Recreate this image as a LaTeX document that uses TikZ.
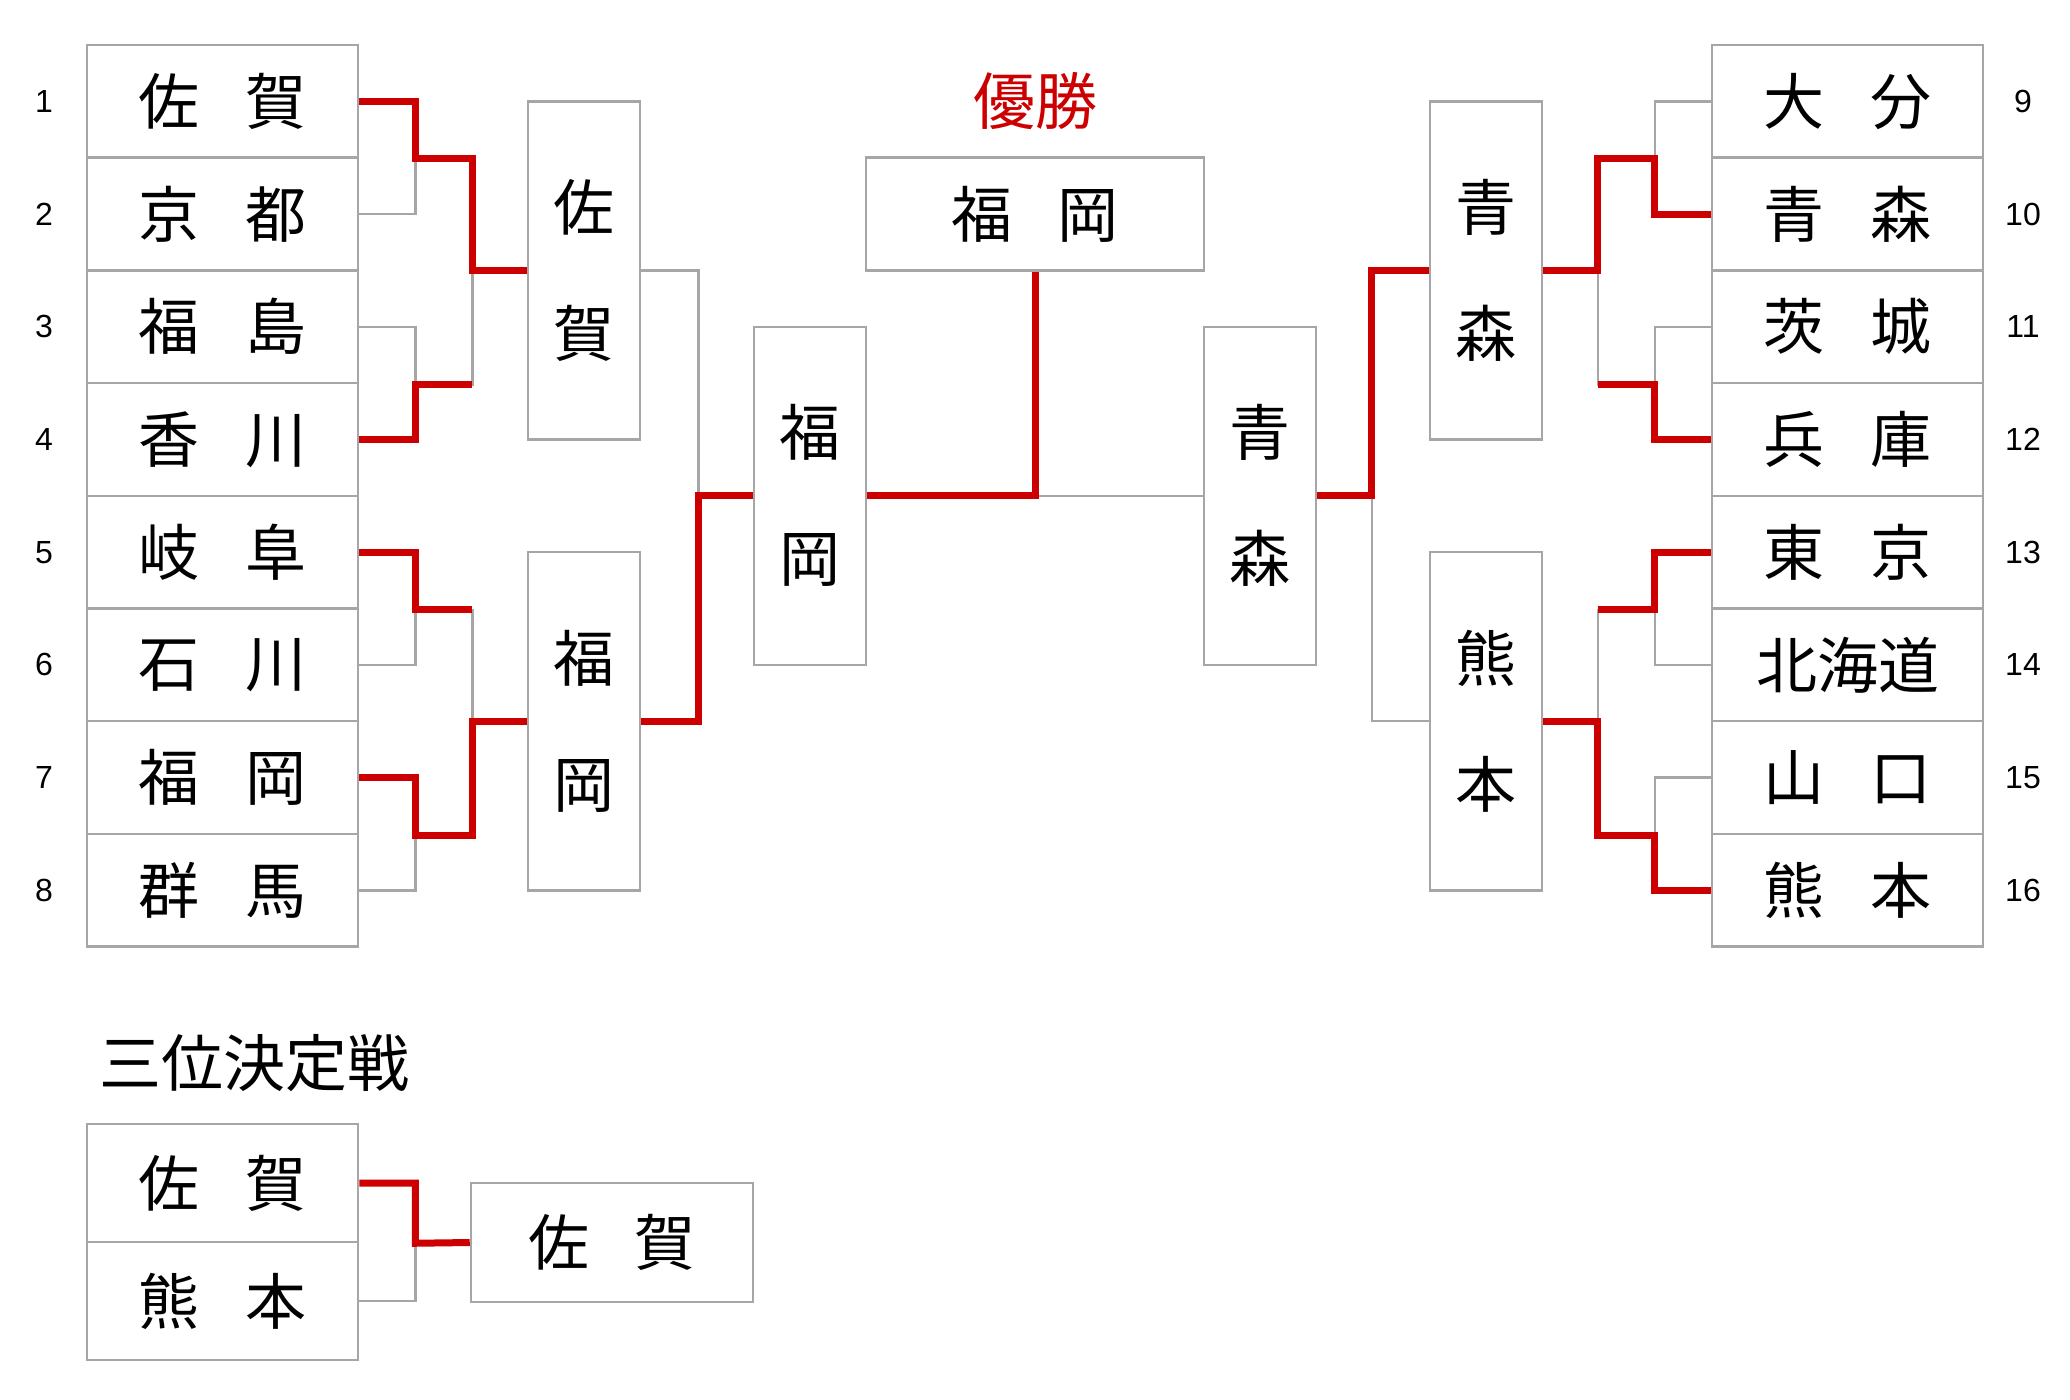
\documentclass[tikz,border=0pt]{standalone}
\usepackage{fontspec}
\setmainfont{Liberation Sans}
\newfontfamily\jp{Noto Sans CJK JP}
\usetikzlibrary{calc,positioning}
\definecolor{boxgray}{RGB}{166,166,166}
\definecolor{winred}{RGB}{204,0,0}
\newcommand{\ken}[2]{#1\hspace{0.75em}#2}

\begin{document}
\begin{tikzpicture}[
    x=1pt, y=-1pt,
    team/.style={draw=boxgray, line width=2.5pt, minimum width=271pt, minimum height=112.7pt, inner sep=0pt, font=\jp\fontsize{61}{61}\selectfont},
    tall/.style={draw=boxgray, line width=2.5pt, minimum width=112pt, minimum height=338.1pt, inner sep=0pt, align=center, font=\jp\fontsize{61}{126}\selectfont},
    num/.style={inner sep=0pt, font=\fontsize{32}{32}\selectfont},
    lose/.style={draw=boxgray, line width=2.5pt},
    win/.style={draw=winred, line width=7pt},
]
\useasboundingbox (0,0) rectangle (2070,1400);

% left block
\node[team] (t1) at (222.5,101.35) {\ken{佐}{賀}};
\node[team] (t2) at (222.5,214.05) {\ken{京}{都}};
\node[team] (t3) at (222.5,326.75) {\ken{福}{島}};
\node[team] (t4) at (222.5,439.45) {\ken{香}{川}};
\node[team] (t5) at (222.5,552.15) {\ken{岐}{阜}};
\node[team] (t6) at (222.5,664.85) {\ken{石}{川}};
\node[team] (t7) at (222.5,777.55) {\ken{福}{岡}};
\node[team] (t8) at (222.5,890.25) {\ken{群}{馬}};

% right block
\node[team] (t9) at (1847.5,101.35) {\ken{大}{分}};
\node[team] (t10) at (1847.5,214.05) {\ken{青}{森}};
\node[team] (t11) at (1847.5,326.75) {\ken{茨}{城}};
\node[team] (t12) at (1847.5,439.45) {\ken{兵}{庫}};
\node[team] (t13) at (1847.5,552.15) {\ken{東}{京}};
\node[team] (t14) at (1847.5,664.85) {北海道};
\node[team] (t15) at (1847.5,777.55) {\ken{山}{口}};
\node[team] (t16) at (1847.5,890.25) {\ken{熊}{本}};

\node[num] (n1) at (44,101.35) {1};
\node[num] (n2) at (44,214.05) {2};
\node[num] (n3) at (44,326.75) {3};
\node[num] (n4) at (44,439.45) {4};
\node[num] (n5) at (44,552.15) {5};
\node[num] (n6) at (44,664.85) {6};
\node[num] (n7) at (44,777.55) {7};
\node[num] (n8) at (44,890.25) {8};
\node[num] (n9) at (2023,101.35) {9};
\node[num] (n10) at (2023,214.05) {10};
\node[num] (n11) at (2023,326.75) {11};
\node[num] (n12) at (2023,439.45) {12};
\node[num] (n13) at (2023,552.15) {13};
\node[num] (n14) at (2023,664.85) {14};
\node[num] (n15) at (2023,777.55) {15};
\node[num] (n16) at (2023,890.25) {16};

% later rounds
\node[tall] (q1) at (584,270.4) {佐\\賀};
\node[tall] (q2) at (584,721.2) {福\\岡};
\node[tall] (q3) at (1486,270.4) {青\\森};
\node[tall] (q4) at (1486,721.2) {熊\\本};
\node[tall] (s1) at (810,495.8) {福\\岡};
\node[tall] (s2) at (1260,495.8) {青\\森};
\node[team, minimum width=338pt] (f) at (1035,214.05) {\ken{福}{岡}};
\node[text=winred, font=\jp\fontsize{62}{62}\selectfont] (yusho) at (1035,101.35) {優勝};

\coordinate (a1) at ($(t1.south east)+(56,0)$);
\coordinate (a2) at ($(t3.south east)+(56,0)$);
\coordinate (a3) at ($(t5.south east)+(56,0)$);
\coordinate (a4) at ($(t7.south east)+(56,0)$);
\coordinate (c1) at ($(t9.south west)+(-56,0)$);
\coordinate (c2) at ($(t11.south west)+(-56,0)$);
\coordinate (c3) at ($(t13.south west)+(-56,0)$);
\coordinate (c4) at ($(t15.south west)+(-56,0)$);

% losers in gray
\draw[lose] (t2.east) -| (a1);
\draw[lose] (t3.east) -| (a2);
\draw[lose] (a2) -- ++(57,0) |- (q1.west);
\draw[lose] (t6.east) -| (a3);
\draw[lose] (a3) -- ++(57,0) |- (q2.west);
\draw[lose] (t8.east) -| (a4);
\draw[lose] (q1.east) -- ++(57,0) |- (s1.west);
\draw[lose] (t9.west) -| (c1);
\draw[lose] (t11.west) -| (c2);
\draw[lose] (c2) -- ++(-57,0) |- (q3.east);
\draw[lose] (t14.west) -| (c3);
\draw[lose] (c3) -- ++(-57,0) |- (q4.east);
\draw[lose] (t15.west) -| (c4);
\draw[lose] (q4.west) -- ++(-57,0) |- (s2.east);
\draw[lose] (s2.west) -- (s2.west -| f.south);

% winners in red
\draw[win] (t1.east) -| (a1) -- ++(57,0) |- (q1.west);
\draw[win] (t4.east) -| (a2) -- ++(57,0);
\draw[win] (t5.east) -| (a3) -- ++(57,0);
\draw[win] (t7.east) -| (a4) -- ++(57,0) |- (q2.west);
\draw[win] (q2.east) -- ++(57,0) |- (s1.west);
\draw[win] (s1.east) -| (f.south);
\draw[win] (t10.west) -| (c1) -- ++(-57,0) |- (q3.east);
\draw[win] (t12.west) -| (c2) -- ++(-57,0);
\draw[win] (t13.west) -| (c3) -- ++(-57,0);
\draw[win] (t16.west) -| (c4) -- ++(-57,0) |- (q4.east);
\draw[win] (q3.west) -- ++(-57,0) |- (s2.east);

% third place
\node[anchor=west, inner sep=0pt, font=\jp\fontsize{62}{62}\selectfont] (sanni) at (99,1063) {三位決定戦};
\node[team, minimum height=118pt] (p1) at (222.5,1183) {\ken{佐}{賀}};
\node[team, minimum height=118pt] (p2) at (222.5,1301) {\ken{熊}{本}};
\node[team, minimum width=282pt, minimum height=119pt] (p3) at (612,1242.5) {\ken{佐}{賀}};
\coordinate (d1) at ($(p1.south east)+(56,0)$);
\draw[lose] (p2.east) -| (d1);
\draw[win] (p1.east) -| (d1) -- (p3.west);
\end{tikzpicture}
\end{document}
